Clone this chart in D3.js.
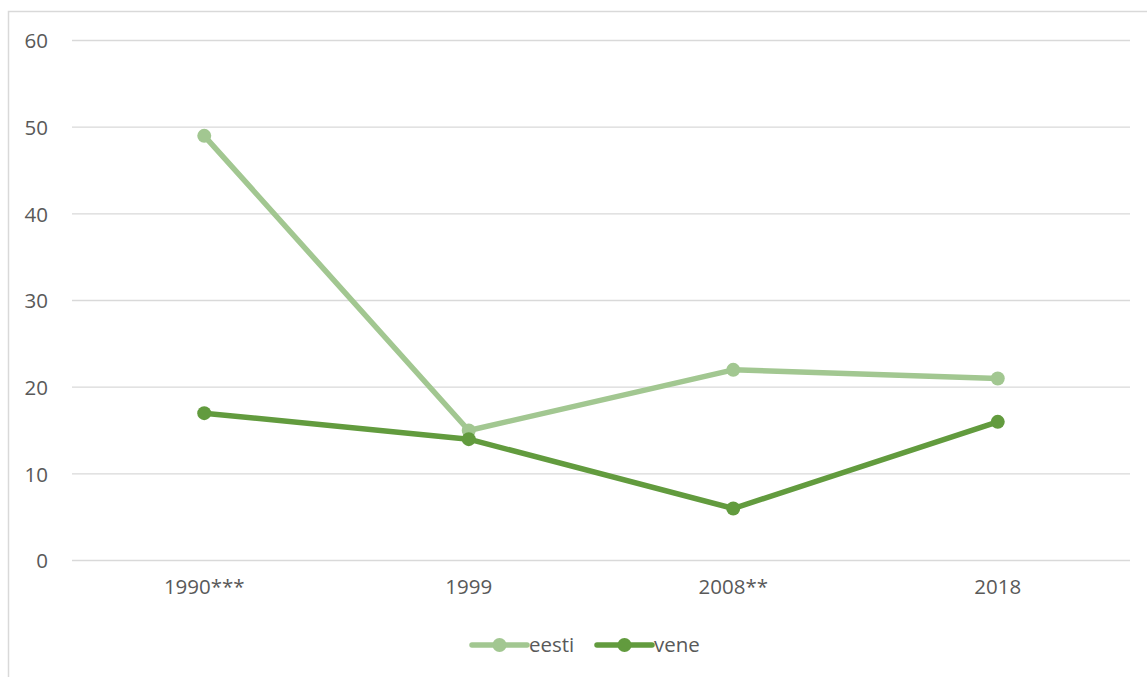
<!DOCTYPE html>
<html><head><meta charset="utf-8">
<script src="https://d3js.org/d3.v7.min.js"></script>
<style>body{margin:0;background:#fff;}</style>
</head><body><svg id="c" width="1147" height="677"></svg>
<script>
const categories = ["1990***", "1999", "2008**", "2018"];
const eesti = [49, 15, 22, 21];
const vene = [17, 14, 6, 16];
const yTicks = [0, 10, 20, 30, 40, 50, 60];
const seriesNames = ["eesti", "vene"];
const colors = ["#A2C791", "#629B3E"];
const FONT = "'Open Sans', 'Noto Sans', sans-serif";

const svg = d3.select("#c").style("display", "block");
// frame
svg.append("path").attr("d", "M8.5,677 V11.5 H1147").attr("fill", "none").attr("stroke", "#D9D9D9").attr("stroke-width", 1.5);

const x = d3.scaleBand().domain(categories).range([72, 1130]);
const y = d3.scaleLinear().domain([0, 60]).range([560.5, 40.5]);

// gridlines
svg.append("g").selectAll("line").data(yTicks).join("line")
  .attr("x1", 72).attr("x2", 1130)
  .attr("y1", d => y(d)).attr("y2", d => y(d))
  .attr("stroke", "#D9D9D9").attr("stroke-width", 1.3);

// y axis labels
const yAxis = d3.axisLeft(y).tickValues(yTicks).tickSize(0).tickPadding(0);
const ga = svg.append("g").attr("transform", "translate(48,0)").call(yAxis)
  .attr("font-family", FONT).attr("font-size", 20.5);
ga.select(".domain").remove();
ga.selectAll("text").attr("fill", "#595959").attr("dy", "0.36em");

// x axis labels
const xAxis = d3.axisBottom(x).tickSize(0).tickPadding(0);
const gx = svg.append("g").attr("transform", "translate(0,579)").call(xAxis)
  .attr("font-family", FONT).attr("font-size", 20.5);
gx.select(".domain").remove();
gx.selectAll("text").attr("fill", "#595959").attr("dy", "0.71em");

const series = [eesti, vene];
const line = d3.line().x((d, i) => x(categories[i]) + x.bandwidth() / 2).y(d => y(d));
series.forEach((s, k) => {
  const g = svg.append("g");
  g.append("path").datum(s).attr("d", line).attr("fill", "none")
    .attr("stroke", colors[k]).attr("stroke-width", 5.5).attr("stroke-linejoin", "round").attr("stroke-linecap", "round");
  g.selectAll("circle").data(s).join("circle")
    .attr("cx", (d, i) => x(categories[i]) + x.bandwidth() / 2)
    .attr("cy", d => y(d)).attr("r", 7).attr("fill", colors[k]);
});

// legend
const legendX = [472, 597];
seriesNames.forEach((n, k) => {
  const g = svg.append("g").attr("transform", `translate(${legendX[k]},645)`);
  g.append("line").attr("x1", 0).attr("x2", 55).attr("y1", 0).attr("y2", 0)
    .attr("stroke", colors[k]).attr("stroke-width", 5.5).attr("stroke-linecap", "round");
  g.append("circle").attr("cx", 27.5).attr("cy", 0).attr("r", 7).attr("fill", colors[k]);
  g.append("text").attr("x", 57).attr("y", 0).attr("dy", "0.36em")
    .attr("font-family", FONT).attr("fill", "#595959").attr("font-size", 20.5).text(n);
});
</script></body></html>
